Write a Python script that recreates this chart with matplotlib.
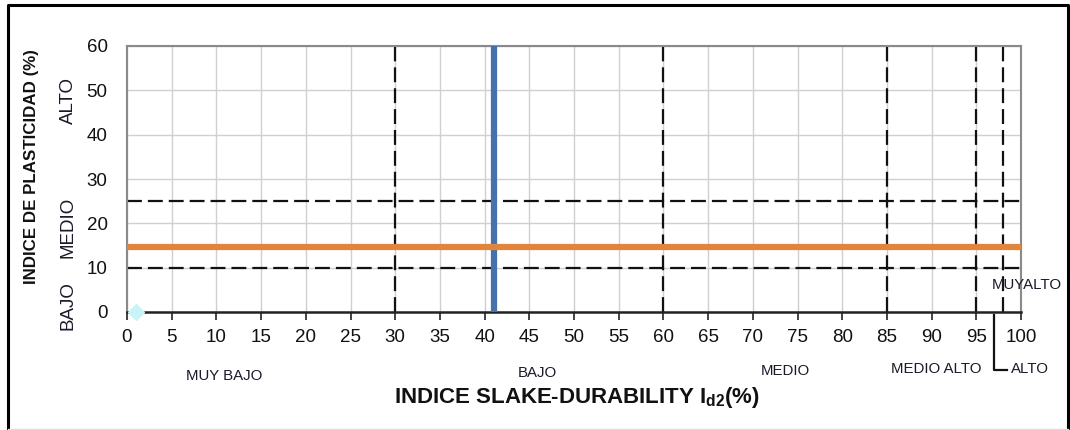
import matplotlib
matplotlib.use("Agg")
import matplotlib.pyplot as plt
from matplotlib.lines import Line2D

plt.rcParams['font.family'] = ['Liberation Sans', 'DejaVu Sans']

# Class boundaries (dashed lines)
durability_bounds = [30, 60, 85, 95, 98]
plasticity_bounds = [10, 25]

# Measured sample values
slake_durability = 41      # Id2 (%)
plasticity_index = 14.7    # IP (%)
sample_point = (1, 0)

x_ticks = list(range(0, 101, 5))
y_ticks = list(range(0, 61, 10))

# Class names along each axis: (label, position)
durability_classes = [("MUY BAJO", 224, 376), ("BAJO", 537, 373), ("MEDIO", 785, 371),
                      ("MEDIO ALTO", 936, 369), ("ALTO", 1030, 369), ("MUYALTO", 1027, 285)]
plasticity_classes = [("BAJO", 306), ("MEDIO", 227), ("ALTO", 101)]

W, H = 1070, 430
fig = plt.figure(figsize=(W / 100, H / 100), dpi=100)
fig.patch.set_facecolor("white")

x0, x1, ytop, ybot = 127, 1021, 46, 312
ax = fig.add_axes([x0 / W, 1 - ybot / H, (x1 - x0) / W, (ybot - ytop) / H])
ax.set_xlim(0, 100)
ax.set_ylim(0, 60)
ax.set_xticks(x_ticks)
ax.set_yticks(y_ticks)
ax.grid(True, color="#d0d0d0", linewidth=1.0)
ax.set_axisbelow(True)
ax.tick_params(axis="x", length=6, width=1.2, color="#222222", labelsize=13.5, pad=6)
ax.tick_params(axis="y", length=0, labelsize=13.5, pad=14)
for lbl in ax.get_xticklabels() + ax.get_yticklabels():
    lbl.set_color("#111111")
for s in ["top", "right", "left"]:
    ax.spines[s].set_color("#8a8a8a")
    ax.spines[s].set_linewidth(1.5)
ax.spines["bottom"].set_color("#222222")
ax.spines["bottom"].set_linewidth(1.8)

dash = (6.7, 2.7)
for xb in durability_bounds:
    ax.axvline(xb, color="#111111", linewidth=1.6, dashes=dash, zorder=2)
for yb in plasticity_bounds:
    ax.axhline(yb, color="#111111", linewidth=1.6, dashes=dash, zorder=2)

ax.plot([slake_durability, slake_durability], [0, 60], color="#4571ad", linewidth=4.5,
        solid_capstyle="butt", zorder=3)
ax.plot([0, 100], [plasticity_index, plasticity_index], color="#e3843d", linewidth=4.5,
        solid_capstyle="butt", zorder=3)
ax.plot([sample_point[0]], [sample_point[1]], marker="D", markersize=8,
        color="#c9f3f7", markeredgecolor="#c9f3f7", clip_on=False, zorder=4)

# Axis titles
fig.text(577 / W, 1 - 398 / H, r"INDICE SLAKE-DURABILITY I$_{\mathregular{d2}}$(%)",
         fontsize=16, fontweight="bold", ha="center", va="center", color="#111111")
fig.text(32 / W, 1 - 167 / H, "INDICE DE PLASTICIDAD (%)", fontsize=12.2, fontweight="bold",
         rotation=90, ha="center", va="center", color="#111111")

for name, cx, cy in durability_classes:
    fig.text(cx / W, 1 - cy / H, name, fontsize=10.8, ha="center", va="center", color="#1a1a2a")
for name, cy in plasticity_classes:
    fig.text(68 / W, 1 - cy / H, name, fontsize=13.5, rotation=90, ha="center", va="center",
             color="#1a1a2a")

# Bracket pointing the ALTO class to its narrow band
fig.add_artist(Line2D([994 / W, 994 / W, 1007 / W], [1 - 315 / H, 1 - 370 / H, 1 - 370 / H],
                      color="#111111", linewidth=1.6))

# Outer frame
fig.add_artist(Line2D([8 / W, 8 / W, 1068 / W, 1068 / W], [1 - 429 / H, 1 - 5 / H, 1 - 5 / H, 1 - 429 / H],
                      color="black", linewidth=2.2))
fig.add_artist(Line2D([8 / W, 1068 / W], [1 - 429 / H, 1 - 429 / H], color="#dddddd", linewidth=1))

fig.savefig("out.png", dpi=100, facecolor="white")
